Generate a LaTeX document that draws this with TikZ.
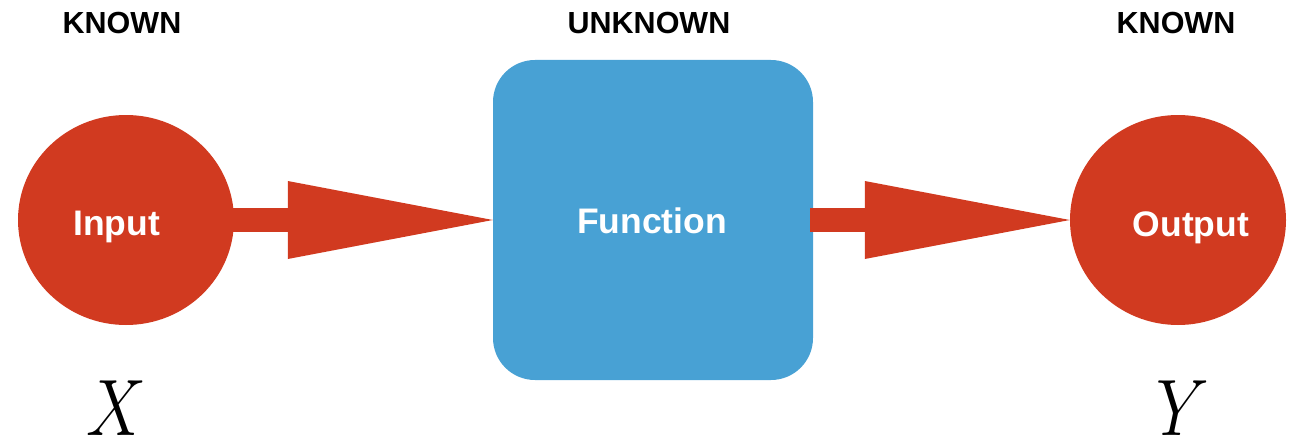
\documentclass[tikz,border=0pt]{standalone}
\usepackage{fix-cm}
\usepackage{fontspec}
\newfontfamily\headfont{Liberation Sans}
\usetikzlibrary{shapes.geometric,arrows.meta,calc}
\definecolor{blobred}{RGB}{209,58,32}
\definecolor{boxblue}{RGB}{72,161,212}
\newcommand{\narrowvar}[1]{\scalebox{0.84}[1]{$#1$}}
\tikzset{
  blob/.style={ellipse, fill=blobred, draw=none, minimum width=216pt, minimum height=210pt,
    inner sep=0pt},
  fbox/.style={rectangle, rounded corners=42pt, fill=boxblue, draw=none, minimum width=320pt,
    minimum height=320pt, inner sep=0pt},
  stagetext/.style={text=white, anchor=base, inner sep=0pt,
    font=\headfont\bfseries\fontsize{35.5}{36}\selectfont},
  toplabel/.style={font=\headfont\bfseries\fontsize{30.5}{31}\selectfont, inner sep=0pt},
  varlabel/.style={font=\fontsize{80}{80}\selectfont, inner sep=0pt, anchor=base},
  fatarrow/.style={draw=blobred, line width=24pt,
    -{Triangle[length=205pt, width=78pt, line width=0pt, fill=blobred]}}
}
\begin{document}
\begin{tikzpicture}[x=1pt, y=-1pt]
  \useasboundingbox (0,0) rectangle (1299,444);
  % the three stages
  \node[blob] (in) at (126,220) {};
  \node[fbox] (fn) at (653,220) {};
  \node[blob] (out) at (1178,220) {};
  \node[stagetext] (tin) at ($(in)+(-9.5,15)$) {Input};
  \node[stagetext] (tfn) at ($(fn)+(-1,13)$) {Function};
  \node[stagetext] (tout) at ($(out)+(13,16)$) {Output};
  % headings
  \node[toplabel] (kin) at (122,23) {KNOWN};
  \node[toplabel] (kfn) at (649,23) {UNKNOWN};
  \node[toplabel] (kout) at (1176,23) {KNOWN};
  % variables
  \node[varlabel] (vx) at (116,435) {\narrowvar{X}};
  \node[varlabel] (vy) at (1183,435) {\narrowvar{Y}};
  % flow
  \draw[fatarrow, shorten <=-3pt] (in.east) -- (fn.west);
  \draw[fatarrow, shorten <=-3pt] (fn.east) -- (out.west);
\end{tikzpicture}
\end{document}
